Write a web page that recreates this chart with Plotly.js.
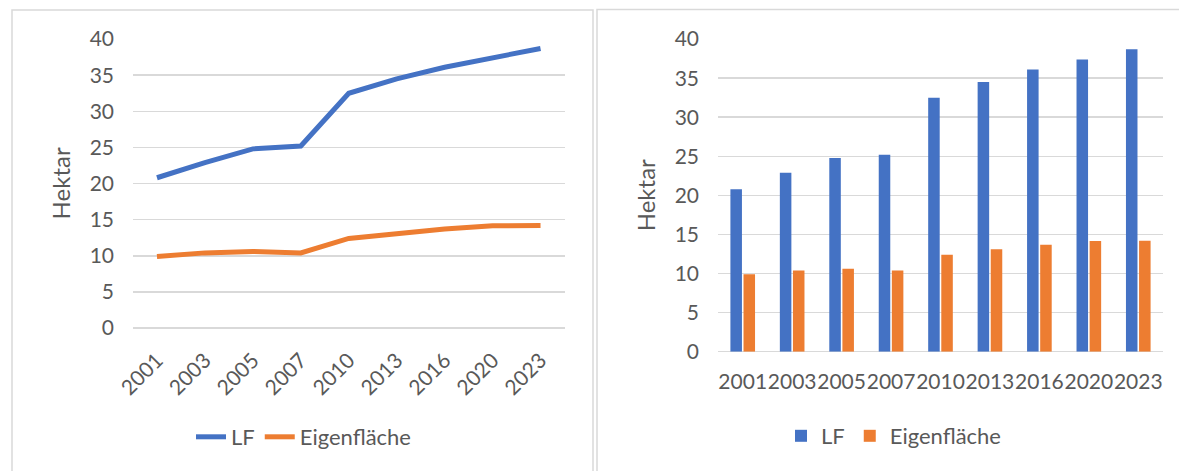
<!DOCTYPE html>
<html>
<head>
<meta charset="utf-8">
<script src="https://cdn.plot.ly/plotly-3.0.1.min.js"></script>
<style>
html,body{margin:0;padding:0;background:#fff;}
#chart{width:1179px;height:471px;}
</style>
</head>
<body>
<div id="chart"></div>
<script>
const years = ["2001","2003","2005","2007","2010","2013","2016","2020","2023"];
const lf = [20.8, 22.9, 24.8, 25.2, 32.5, 34.5, 36.1, 37.4, 38.7];
const eigen = [9.9, 10.4, 10.6, 10.4, 12.4, 13.1, 13.7, 14.15, 14.2];
const seriesNames = ["LF", "Eigenfläche"];
const yTicks = [0, 5, 10, 15, 20, 25, 30, 35, 40];

const BLUE = "#4472C4", ORANGE = "#ED7D31", GRID = "#D9D9D9", TXT = "#595959";
const FONT = "Lato, 'Open Sans', sans-serif";
const W = 1179, H = 471;
const px = v => v / W, py = v => 1 - v / H;

const traces = [
  {type:"scatter", mode:"lines", x:years, y:lf, name:seriesNames[0], xaxis:"x", yaxis:"y",
   line:{color:BLUE, width:5}, legend:"legend"},
  {type:"scatter", mode:"lines", x:years, y:eigen, name:seriesNames[1], xaxis:"x", yaxis:"y",
   line:{color:ORANGE, width:5}, legend:"legend"},
  {type:"bar", x:years, y:lf, name:seriesNames[0], xaxis:"x2", yaxis:"y2",
   marker:{color:BLUE}, legend:"legend2"},
  {type:"bar", x:years, y:eigen, name:seriesNames[1], xaxis:"x2", yaxis:"y2",
   marker:{color:ORANGE}, legend:"legend2"}
];

const yCommon = {
  range:[0, 40.05], tickvals:yTicks, showgrid:true, gridcolor:GRID, gridwidth:1.5,
  zeroline:true, zerolinecolor:GRID, zerolinewidth:1.5, showline:false, ticks:"",
  ticklabelstandoff:18, tickfont:{family:FONT, size:21, color:TXT}, automargin:false,
  title:{text:"Hektar", font:{family:FONT, size:24, color:TXT}, standoff:12}
};

const layout = {
  width:W, height:H, margin:{l:0, r:0, t:0, b:0}, paper_bgcolor:"#fff", plot_bgcolor:"#fff",
  font:{family:FONT, color:TXT},
  barmode:"group", bargap:0.47, bargroupgap:0.12,
  xaxis:{domain:[px(133), px(564.5)], type:"category", range:[-0.5, 8.5], showgrid:false,
    zeroline:false, showline:false, ticks:"", tickangle:-45, ticklabelstandoff:15,
    tickfont:{family:FONT, size:21, color:TXT}, automargin:false, anchor:"y"},
  yaxis:Object.assign({}, yCommon, {domain:[py(328), py(38.7)], anchor:"x"}),
  xaxis2:{domain:[px(718), px(1163)], type:"category", range:[-0.5, 8.5], showgrid:false,
    zeroline:false, showline:false, ticks:"", tickangle:0, ticklabelstandoff:15,
    tickfont:{family:FONT, size:21, color:TXT}, automargin:false, anchor:"y2"},
  yaxis2:Object.assign({}, yCommon, {domain:[py(351.7), py(38.7)], anchor:"x2"}),
  legend:{orientation:"h", x:px(191), y:py(437), xanchor:"left", yanchor:"middle",
    font:{family:FONT, size:22, color:TXT}, bgcolor:"rgba(0,0,0,0)", itemwidth:30},
  legend2:{orientation:"h", x:px(781), y:py(436), xanchor:"left", yanchor:"middle",
    font:{family:FONT, size:22, color:TXT}, bgcolor:"rgba(0,0,0,0)", itemwidth:30},
  showlegend:true,
  shapes:[
    {type:"rect", xref:"paper", yref:"paper", x0:px(12), x1:px(593), y0:-0.02, y1:py(10),
     line:{color:GRID, width:1.5}, layer:"below"},
    {type:"rect", xref:"paper", yref:"paper", x0:px(597), x1:1.02, y0:-0.02, y1:py(9.5),
     line:{color:GRID, width:1.5}, layer:"below"}
  ]
};

Plotly.newPlot("chart", traces, layout, {displayModeBar:false, staticPlot:true});
</script>
</body>
</html>
